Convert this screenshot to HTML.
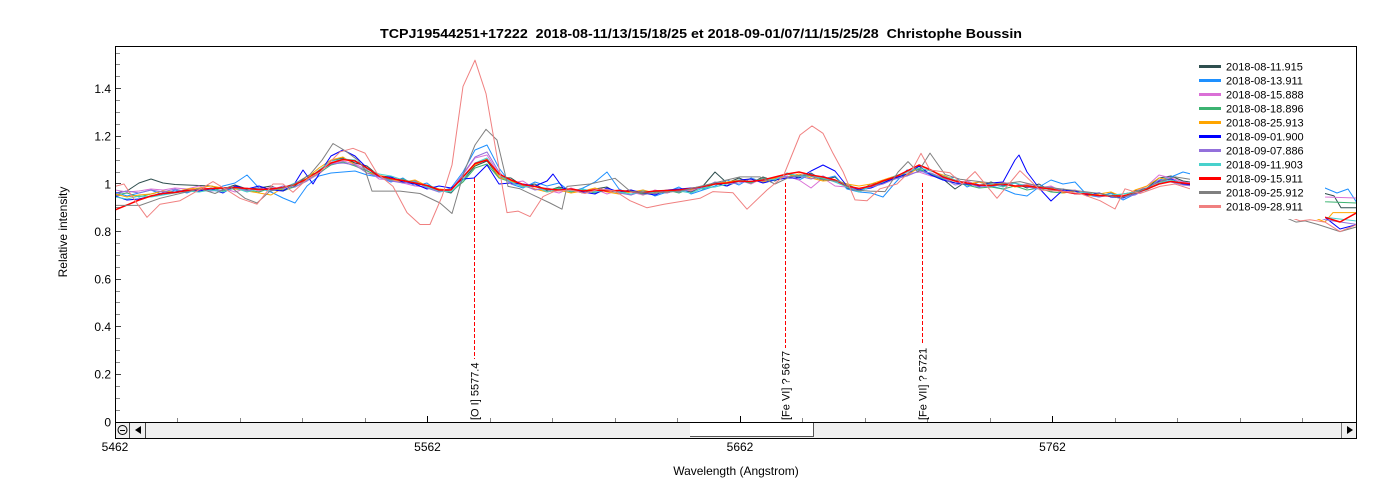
<!DOCTYPE html>
<html><head><meta charset="utf-8">
<style>
html,body{margin:0;padding:0;background:#fff;}
svg{display:block;font-family:"Liberation Sans",Arial,sans-serif;}
</style></head><body>
<svg width="1400" height="500" xmlns="http://www.w3.org/2000/svg">
<defs><clipPath id="pc"><rect x="116" y="47" width="1240.5" height="375"/></clipPath></defs>
<rect width="1400" height="500" fill="#fff"/>
<text x="380" y="38" font-size="13" font-weight="bold" textLength="642" lengthAdjust="spacingAndGlyphs" style="white-space:pre">TCPJ19544251+17222  2018-08-11/13/15/18/25 et 2018-09-01/07/11/15/25/28  Christophe Boussin</text>

<!-- y ticks -->
<g stroke="#888" stroke-width="1">
<line x1="116" y1="410.5" x2="120" y2="410.5"/><line x1="116" y1="398.5" x2="120" y2="398.5"/><line x1="116" y1="386.5" x2="120" y2="386.5"/>
<line x1="116" y1="362.5" x2="120" y2="362.5"/><line x1="116" y1="350.5" x2="120" y2="350.5"/><line x1="116" y1="338.5" x2="120" y2="338.5"/>
<line x1="116" y1="314.5" x2="120" y2="314.5"/><line x1="116" y1="302.5" x2="120" y2="302.5"/><line x1="116" y1="291.5" x2="120" y2="291.5"/>
<line x1="116" y1="267.5" x2="120" y2="267.5"/><line x1="116" y1="255.5" x2="120" y2="255.5"/><line x1="116" y1="243.5" x2="120" y2="243.5"/>
<line x1="116" y1="219.5" x2="120" y2="219.5"/><line x1="116" y1="207.5" x2="120" y2="207.5"/><line x1="116" y1="195.5" x2="120" y2="195.5"/>
<line x1="116" y1="172.5" x2="120" y2="172.5"/><line x1="116" y1="160.5" x2="120" y2="160.5"/><line x1="116" y1="148.5" x2="120" y2="148.5"/>
<line x1="116" y1="124.5" x2="120" y2="124.5"/><line x1="116" y1="112.5" x2="120" y2="112.5"/><line x1="116" y1="100.5" x2="120" y2="100.5"/>
<line x1="116" y1="76.5" x2="120" y2="76.5"/><line x1="116" y1="64.5" x2="120" y2="64.5"/><line x1="116" y1="53.5" x2="120" y2="53.5"/>
</g>
<g stroke="#444" stroke-width="1">
<line x1="116" y1="374.5" x2="121" y2="374.5"/><line x1="116" y1="326.5" x2="121" y2="326.5"/><line x1="116" y1="279.5" x2="121" y2="279.5"/>
<line x1="116" y1="231.5" x2="121" y2="231.5"/><line x1="116" y1="183.5" x2="121" y2="183.5"/><line x1="116" y1="136.5" x2="121" y2="136.5"/>
<line x1="116" y1="88.5" x2="121" y2="88.5"/>
</g>
<!-- x ticks -->
<g stroke="#888" stroke-width="1">
<line x1="177.5" y1="422" x2="177.5" y2="418"/><line x1="240.5" y1="422" x2="240.5" y2="418"/><line x1="302.5" y1="422" x2="302.5" y2="418"/><line x1="365.5" y1="422" x2="365.5" y2="418"/>
<line x1="490.5" y1="422" x2="490.5" y2="418"/><line x1="552.5" y1="422" x2="552.5" y2="418"/><line x1="615.5" y1="422" x2="615.5" y2="418"/><line x1="677.5" y1="422" x2="677.5" y2="418"/>
<line x1="802.5" y1="422" x2="802.5" y2="418"/><line x1="865.5" y1="422" x2="865.5" y2="418"/><line x1="927.5" y1="422" x2="927.5" y2="418"/><line x1="990.5" y1="422" x2="990.5" y2="418"/>
<line x1="1115.5" y1="422" x2="1115.5" y2="418"/><line x1="1177.5" y1="422" x2="1177.5" y2="418"/><line x1="1240.5" y1="422" x2="1240.5" y2="418"/><line x1="1302.5" y1="422" x2="1302.5" y2="418"/>
</g>
<g stroke="#000" stroke-width="1">
<line x1="427.5" y1="422" x2="427.5" y2="416"/><line x1="740.5" y1="422" x2="740.5" y2="416"/><line x1="1052.5" y1="422" x2="1052.5" y2="416"/>
</g>

<!-- data -->
<g clip-path="url(#pc)" fill="none" stroke-width="1" stroke-linejoin="round">
<polyline stroke="#2f4f4f" points="115,193 127,191 139,183 151,179 163,183 175,184.5 187,185 199,185.5 211,186 223,189 235,185 247,189 259,188 271,186 283,191 295,186 307,176 319,172 331,161 343,158 355,163 367,166 379,176 391,177 403,183 415,181 427,188 439,190 451,193 463,180 475,166 487,161 499,177 511,178 523,186 535,184 547,191 559,187 571,190 583,193 595,189 607,187 619,194 631,190 643,195 655,191 667,193 679,189 691,192 703,186 715,172 727,183 739,178 751,183 763,177 775,181 787,173 799,178 811,173 823,180 835,177 847,188 859,191 871,184 883,183 895,176 907,176 919,166 931,175 943,179 955,189 967,181 979,186 991,182 1003,186 1015,183 1027,188 1039,184 1051,191 1063,189 1075,194 1087,192 1099,197 1111,193 1123,198 1135,191 1147,188 1159,178 1171,176 1183,181 1250,191 1325,193.5 1334,195.9 1341,207.8 1357,207.8"/>
<polyline stroke="#1e90ff" points="115,192 127,196 139,193 151,190 163,195 175,190 187,193 199,188 211,191 223,186 235,183 247,175 259,188 271,192 283,198 295,203 307,186 319,176 331,173 343,172 355,171 367,175 379,177 391,182 403,178 415,186 427,183 439,192 451,188 463,172 475,150 487,145 499,168 511,184 523,188 535,182 547,186 559,183 571,192 583,188 595,182 607,172 619,189 631,195 643,190 655,196 667,192 679,187 691,194 703,190 715,186 727,180 739,185 751,178 763,182 775,179 787,176 799,180 811,174 823,179 835,176 847,189 859,192 871,193 883,197 895,183 907,170 919,170 931,175 943,180 955,177 967,187 979,182 991,186 1003,189 1015,194 1027,196 1039,187 1051,180 1063,184 1075,182 1087,195 1099,197 1111,193 1123,200 1135,194 1147,188 1159,180 1171,177 1183,172 1250,189 1325,188 1337,193 1348,189 1357,203"/>
<polyline stroke="#da70d6" points="115,190 127,192 139,191 151,189 163,190 175,188 187,189 199,186 211,190 223,188 235,192 247,188 259,191 271,187 283,189 295,184 307,181 319,174 331,164 343,161 355,164 367,170 379,179 391,180 403,183 415,186 427,187 439,191 451,189 463,175 475,158 487,155 499,174 511,183 523,181 535,189 547,190 559,193 571,188 583,192 595,189 607,194 619,190 631,192 643,195 655,190 667,193 679,189 691,191 703,186 715,184 727,186 739,180 751,184 763,178 775,180 787,176 799,180 811,188 823,178 835,186 847,187 859,190 871,185 883,183 895,178 907,174 919,172 931,176 943,178 955,183 967,181 979,186 991,185 1003,182 1015,186 1027,184 1039,188 1051,186 1063,192 1075,190 1087,195 1099,193 1111,197 1123,194 1135,192 1147,186 1159,175 1171,178 1183,182 1250,190 1325,197 1357,198"/>
<polyline stroke="#3cb371" points="115,195 127,193 139,197 151,194 163,191 175,193 187,190 199,192 211,188 223,191 235,187 247,190 259,192 271,188 283,190 295,187 307,180 319,173 331,165 343,162 355,166 367,171 379,176 391,180 403,179 415,184 427,185 439,189 451,192 463,182 475,168 487,164 499,178 511,182 523,185 535,186 547,190 559,188 571,192 583,190 595,193 607,190 619,193 631,191 643,194 655,192 667,190 679,193 691,188 703,189 715,184 727,186 739,181 751,183 763,178 775,180 787,174 799,177 811,175 823,179 835,181 847,184 859,190 871,187 883,182 895,179 907,172 919,169 931,174 943,179 955,183 967,185 979,188 991,187 1003,189 1015,186 1027,190 1039,188 1051,192 1063,193 1075,191 1087,195 1099,193 1111,196 1123,194 1135,192 1147,188 1159,181 1171,182 1183,184 1250,193 1325,201.8 1357,203"/>
<polyline stroke="#ffa500" points="115,194 127,197 139,195 151,194 163,191 175,192 187,189 199,188 211,186 223,188 235,189 247,191 259,193 271,195 283,188 295,185 307,178 319,168 331,160 343,157 355,165 367,173 379,175 391,179 403,182 415,180 427,186 439,189 451,190 463,177 475,165 487,159 499,177 511,181 523,186 535,189 547,192 559,190 571,193 583,191 595,188 607,192 619,194 631,192 643,190 655,193 667,191 679,189 691,190 703,186 715,183 727,182 739,180 751,179 763,182 775,178 787,177 799,174 811,178 823,181 835,180 847,184 859,186 871,184 883,180 895,176 907,175 919,168 931,171 943,175 955,180 967,184 979,182 991,185 1003,183 1015,187 1027,185 1039,189 1051,188 1063,193 1075,191 1087,196 1099,194 1111,192 1123,197 1135,190 1147,186 1159,178 1171,180 1183,184 1250,191 1325,222 1333,212.6 1357,212.6"/>
<polyline stroke="#0000ff" points="115,196 127,200 139,199 151,196 163,193 175,192 187,190 199,191 211,189 223,193 235,186 247,189 259,186 271,190 283,191 295,183 303,170 313,184 319,174 331,156 343,150 355,156 367,168 379,177 391,177 403,182 415,184 427,189 439,186 451,188 463,179 474,178 487,165 499,184 511,183 523,184 535,186 547,181 553,174 563,188 571,190 583,192 595,194 607,188 619,192 631,190 643,193 655,195 667,190 679,189 691,188 703,187 715,183 727,186 739,180 751,179 763,183 775,180 787,178 799,178 811,171 823,165 835,171 847,186 859,190 871,188 883,183 895,178 907,174 919,166 931,175 943,180 955,183 967,184 979,186 991,183 1003,182 1015,160 1019,155 1027,172 1039,188 1051,201 1063,190 1075,191 1087,195 1099,193 1111,197 1123,198 1135,193 1147,188 1159,181 1171,179 1183,184 1250,191 1325,217.3 1340,229 1357,224.5"/>
<polyline stroke="#9370db" points="115,194 127,191 139,193 151,190 163,192 175,189 187,192 199,189 211,191 223,190 235,187 247,191 259,188 271,190 283,186 295,187 307,181 319,170 331,164 343,163 355,165 367,173 379,177 391,181 403,183 415,181 427,188 439,192 451,190 463,174 475,157 487,152 499,172 511,184 523,185 535,190 547,188 559,191 571,189 583,193 595,191 607,189 619,193 631,195 643,191 655,194 667,190 679,192 691,189 703,188 715,182 727,184 739,183 751,181 763,181 775,177 787,177 799,176 811,179 823,176 835,182 847,186 859,191 871,187 883,184 895,179 907,176 919,171 931,173 943,178 955,185 967,183 979,187 991,186 1003,185 1015,183 1027,187 1039,189 1051,187 1063,191 1075,194 1087,193 1099,197 1111,195 1123,197 1135,195 1147,189 1159,180 1171,182 1183,185 1250,192 1325,219.7 1357,224.5"/>
<polyline stroke="#48d1cc" points="115,197 127,199 139,196 151,197 163,195 175,193 187,191 199,192 211,190 223,192 235,188 247,192 259,189 271,191 283,188 295,183 307,180 319,170 331,161 343,159 355,160 367,169 379,174 391,176 403,180 415,182 427,187 439,191 451,192 463,180 475,163 487,158 499,175 511,182 523,187 535,186 547,192 559,189 571,191 583,189 595,192 607,190 619,192 631,194 643,191 655,193 667,192 679,191 691,193 703,188 715,187 727,184 739,180 751,182 763,179 775,180 787,173 799,176 811,176 823,178 835,182 847,187 859,192 871,186 883,182 895,176 907,172 919,168 931,171 943,176 955,180 967,183 979,185 991,184 1003,187 1015,183 1027,186 1039,187 1051,190 1063,192 1075,193 1087,192 1099,196 1111,195 1123,194 1135,192 1147,190 1159,183 1171,180 1183,183 1250,192 1325,217.3 1357,221"/>
<polyline stroke="#ff0000" stroke-width="1.5" points="115,210 127,205 139,200 151,196 163,193.5 175,192.5 187,190.5 199,189.5 211,188.5 223,188 235,187.5 247,188.5 259,189.5 271,189 283,187.5 295,184.5 307,179 319,171 331,163 343,159.5 355,161 367,168 379,176 391,178.5 403,180.5 415,183 427,185.5 439,190 451,190 463,177 475,163.5 487,160 499,174 511,180 523,184.5 535,186.5 547,189 559,190 571,189 583,191 595,190 607,191 619,190.5 631,191.5 643,192.5 655,191 667,190.5 679,190 691,188.5 703,186.5 715,184 727,183 739,181 751,181.5 763,180 775,177 787,174 799,172 811,175 823,177 835,180 847,186 859,188.5 871,186 883,181 895,177 907,171 919,165 931,170 943,177 955,181 967,183 979,185 991,185.5 1003,184 1015,186 1027,186 1039,187.5 1051,189 1063,191.5 1075,193.5 1087,194 1099,195.5 1111,196 1123,196 1135,193 1147,189 1159,184 1171,181.5 1183,183 1250,190.9 1325,217.3 1340,222 1357,212.6"/>
<polyline stroke="#808080" points="115,205.4 140,205.4 160,198.3 180,193.5 200,188.8 215,193.5 230,186.4 245,198.3 257,203 270,191.1 290,186.4 310,174.5 322,160.2 333,143.5 345,150.7 358,160.2 365,169.7 372,191.1 386,191.1 400,191.1 420,193.5 440,203 452,213.5 464,172.1 475,145 486,129.3 497,140 508,186.4 520,188.8 535,195.9 550,203 562,209.2 567,186.4 590,184 615,178.3 630,191.1 650,193.5 680,191.1 710,184 740,176.9 760,176.9 775,184 790,176.9 805,174.5 820,179.2 840,181.6 853,190 870,191.1 885,191.6 898,172.1 908,161.6 918,172.1 930,153.1 945,174.5 960,179.2 980,181.6 1000,184 1020,181.6 1040,186.4 1060,188.8 1080,191.1 1100,193.5 1120,198.3 1140,191.1 1160,181.6 1175,176.9 1190,179.2 1250,195.9 1285,217.3 1296,222.1 1305,220.9 1318,224.5 1340,231.6 1357,226.8"/>
<polyline stroke="#f08080" points="115,186.4 124,184 135,200.7 147,217.3 160,204.2 180,200.7 197,191.1 213,181.6 225,188.8 240,198.3 257,204.2 273,184 283,184 293,192.3 307,179.2 320,172.1 340,151.9 353,148.3 365,153.1 377,173.3 393,186.4 407,212.6 420,224.5 430,224.5 442,196.6 452,165 463,86.4 475,60.2 486,93.6 497,156.6 507,212.6 518,211.1 530,216.6 543,196.6 555,191.1 570,190 585,193.5 600,188.8 615,191.1 630,200.7 647,207.8 664,204.2 680,201.6 700,198.3 713,191.6 733,192.8 747,209.2 767,190 783,176.9 800,135 812,125.9 823,133.3 833,153.3 843,171.6 855,199.9 867,200.7 880,188.8 897,184 913,168.3 921,153.3 930,170 950,172.8 962,184 975,171.6 997,198.3 1020,170.7 1040,190 1060,191.1 1080,193.5 1100,200.7 1115,209 1125,188.8 1140,193.5 1160,186.4 1175,184 1190,188.8 1260,200.7 1290,217.3 1300,220.9 1310,219.7 1325,222.1 1340,231.6 1357,224.5"/>
</g>

<!-- annotation lines -->
<g stroke="#ff0000" stroke-width="1" stroke-dasharray="4,2">
<line x1="474.5" y1="178" x2="474.5" y2="359"/>
<line x1="785.5" y1="183" x2="785.5" y2="348"/>
<line x1="922.5" y1="183" x2="922.5" y2="345"/>
</g>
<g font-size="11" fill="#000">
<text transform="translate(478.5,420) rotate(-90)">[O I] 5577.4</text>
<text transform="translate(789.5,420) rotate(-90)">[Fe VI] ? 5677</text>
<text transform="translate(926.5,420) rotate(-90)">[Fe VII] ? 5721</text>
</g>

<!-- legend -->
<rect x="1190" y="56" width="135" height="163" fill="#fff"/>
<g stroke-width="3">
<line x1="1199" y1="66.5" x2="1221" y2="66.5" stroke="#2f4f4f"/>
<line x1="1199" y1="80.5" x2="1221" y2="80.5" stroke="#1e90ff"/>
<line x1="1199" y1="94.5" x2="1221" y2="94.5" stroke="#da70d6"/>
<line x1="1199" y1="108.5" x2="1221" y2="108.5" stroke="#3cb371"/>
<line x1="1199" y1="122.5" x2="1221" y2="122.5" stroke="#ffa500"/>
<line x1="1199" y1="136.5" x2="1221" y2="136.5" stroke="#0000ff"/>
<line x1="1199" y1="150.5" x2="1221" y2="150.5" stroke="#9370db"/>
<line x1="1199" y1="164.5" x2="1221" y2="164.5" stroke="#48d1cc"/>
<line x1="1199" y1="178.5" x2="1221" y2="178.5" stroke="#ff0000"/>
<line x1="1199" y1="192.5" x2="1221" y2="192.5" stroke="#808080"/>
<line x1="1199" y1="206.5" x2="1221" y2="206.5" stroke="#f08080"/>
</g>
<g font-size="11" fill="#000">
<text x="1226" y="70.5">2018-08-11.915</text>
<text x="1226" y="84.5">2018-08-13.911</text>
<text x="1226" y="98.5">2018-08-15.888</text>
<text x="1226" y="112.5">2018-08-18.896</text>
<text x="1226" y="126.5">2018-08-25.913</text>
<text x="1226" y="140.5">2018-09-01.900</text>
<text x="1226" y="154.5">2018-09-07.886</text>
<text x="1226" y="168.5">2018-09-11.903</text>
<text x="1226" y="182.5">2018-09-15.911</text>
<text x="1226" y="196.5">2018-09-25.912</text>
<text x="1226" y="210.5">2018-09-28.911</text>
</g>

<!-- scrollbar -->
<rect x="115" y="422" width="1242" height="16" fill="#f0f0f0"/>
<rect x="690" y="423" width="124" height="14" fill="#ffffff"/>
<line x1="690" y1="436.5" x2="814" y2="436.5" stroke="#555"/>
<line x1="813.5" y1="423" x2="813.5" y2="437" stroke="#555"/>
<line x1="129.5" y1="422" x2="129.5" y2="438" stroke="#444"/>
<line x1="145.5" y1="422" x2="145.5" y2="438" stroke="#444"/>
<line x1="1341.5" y1="422" x2="1341.5" y2="438" stroke="#777"/>
<circle cx="122.5" cy="430" r="4.5" fill="none" stroke="#000" stroke-width="1"/>
<line x1="120" y1="430.5" x2="125" y2="430.5" stroke="#000"/>
<polygon points="135,430 141,426 141,434" fill="#000"/>
<polygon points="1347,426 1353,430 1347,434" fill="#000"/>

<!-- frame -->
<g stroke="#000" stroke-width="1" fill="none">
<rect x="115.5" y="46.5" width="1241" height="392"/>
<line x1="115" y1="422.5" x2="1357" y2="422.5"/>
</g>

<g font-size="12" fill="#000">
<text x="111" y="426.3" text-anchor="end">0</text>
<text x="111" y="378.7" text-anchor="end">0.2</text>
<text x="111" y="331.1" text-anchor="end">0.4</text>
<text x="111" y="283.5" text-anchor="end">0.6</text>
<text x="111" y="235.9" text-anchor="end">0.8</text>
<text x="111" y="188.3" text-anchor="end">1</text>
<text x="111" y="140.7" text-anchor="end">1.2</text>
<text x="111" y="93.1" text-anchor="end">1.4</text>
<text x="115" y="451" text-anchor="middle">5462</text>
<text x="427.5" y="451" text-anchor="middle">5562</text>
<text x="740" y="451" text-anchor="middle">5662</text>
<text x="1052.5" y="451" text-anchor="middle">5762</text>
<text x="736" y="475" text-anchor="middle">Wavelength (Angstrom)</text>
<text transform="translate(67,232) rotate(-90)" text-anchor="middle">Relative intensity</text>
</g>
</svg>
</body></html>
